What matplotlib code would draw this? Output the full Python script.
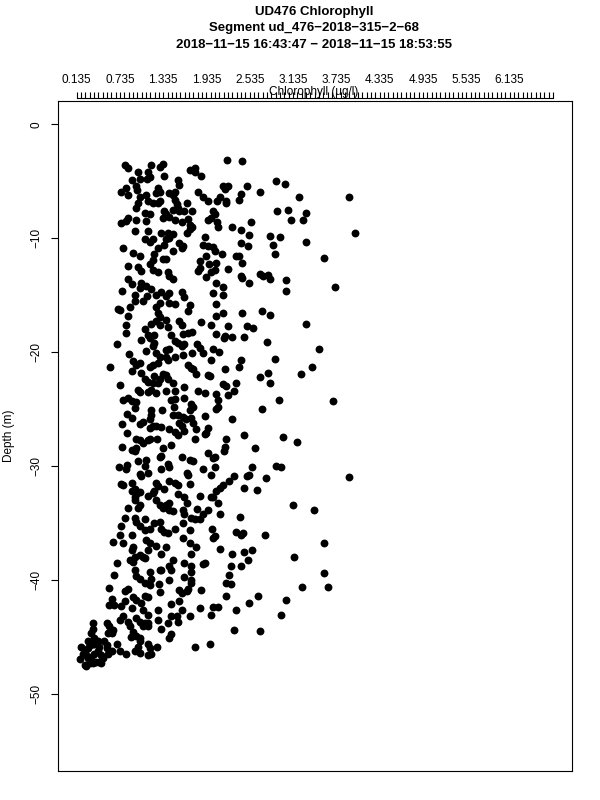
import matplotlib
matplotlib.use("Agg")
import matplotlib.pyplot as plt
import numpy as np

plt.rcParams['font.family'] = ['Liberation Sans', 'DejaVu Sans']

# ---------------- data ----------------
chl_upper = [
    2.22, 2.43, 0.80, 0.85, 1.17, 1.29, 1.33, 0.99, 1.12, 1.15,
    1.11, 1.35, 1.71, 1.77, 1.78, 1.86, 0.91, 1.01, 1.54, 1.56,
    0.96, 0.97, 0.75, 0.82, 1.27, 1.24, 1.29, 1.41, 1.50, 1.47,
    0.85, 1.82, 2.16, 2.23, 2.19, 2.50, 2.42, 2.39, 2.68, 2.90,
    3.02, 3.22, 3.91, 1.88, 1.95, 2.08, 2.12, 2.21, 2.21, 1.01,
    1.10, 0.99, 0.96, 1.12, 1.19, 1.26, 1.29, 1.50, 1.52, 1.47,
    1.66, 1.34, 1.38, 1.42, 1.33, 1.54, 1.56, 1.62, 1.74, 1.08,
    1.15, 0.85, 0.82, 0.75, 0.96, 1.10, 1.50, 1.59, 1.68, 1.71,
    1.74, 1.66, 1.70, 2.02, 2.05, 1.95, 2.00, 2.08, 2.09, 2.29,
    2.42, 2.55, 2.53, 2.91, 3.06, 3.32, 3.27, 3.10, 3.99, 0.94,
    1.12, 1.30, 1.40, 1.47, 1.42, 1.38, 1.09, 1.15, 1.19, 1.56,
    1.61, 1.59, 1.91, 2.81, 2.95, 3.32, 2.42, 2.51, 2.85, 2.88,
    0.78, 0.92, 1.01, 1.27, 1.35, 1.47, 1.88, 1.95, 2.02, 2.05,
    2.15, 2.35, 2.39, 2.43, 3.56, 1.21, 1.19, 1.33, 1.38, 0.85,
    0.99, 1.03, 1.15, 1.19, 1.26, 1.84, 1.93, 1.97, 2.07, 2.05,
    2.00, 1.82, 1.84, 2.23, 1.93, 1.40, 1.42, 1.47, 2.67, 2.72,
    2.79, 2.81, 2.42, 2.43, 2.52, 3.03, 3.03, 3.71, 0.85, 0.90,
    1.03, 1.10, 1.17, 1.01, 0.77, 2.07, 2.17, 2.16, 2.02, 0.95,
    0.94, 1.11, 1.24, 1.31, 1.42, 1.38, 1.29, 1.42, 1.50, 1.59,
    1.63, 1.05, 0.71, 0.74, 0.88, 0.85, 1.24, 1.26, 1.29, 1.70,
    1.68, 2.07, 2.07, 2.16, 2.43, 2.70, 2.81,
]
depth_upper = [
    -3.1, -3.2, -3.6, -3.8, -3.6, -3.7, -3.5, -4.2, -4.2, -4.6,
    -4.8, -4.5, -4.0, -3.8, -4.2, -4.5, -4.9, -4.8, -4.9, -5.3,
    -5.4, -5.8, -5.9, -5.6, -5.6, -6.0, -5.9, -6.0, -5.9, -6.2,
    -6.2, -5.9, -5.4, -5.4, -5.7, -5.4, -6.1, -6.6, -5.9, -5.0,
    -5.2, -6.4, -6.4, -6.4, -6.7, -6.7, -6.4, -6.7, -6.9, -6.4,
    -6.2, -6.9, -7.3, -6.7, -6.9, -6.9, -6.7, -6.6, -7.0, -7.5,
    -6.9, -7.6, -7.9, -8.1, -8.2, -7.3, -7.6, -7.6, -7.6, -7.8,
    -7.9, -8.2, -8.5, -8.7, -8.4, -8.5, -8.4, -8.6, -8.3, -8.8,
    -9.0, -9.5, -9.2, -7.6, -7.9, -8.4, -8.2, -8.6, -9.0, -9.0,
    -9.3, -8.6, -9.7, -7.6, -7.5, -7.8, -8.4, -8.4, -9.5, -9.4,
    -9.4, -9.5, -9.5, -9.6, -10.0, -10.1, -10.1, -10.3, -10.1, -10.4,
    -10.7, -10.9, -9.9, -9.8, -9.9, -10.3, -10.4, -10.7, -10.6, -11.4,
    -10.9, -11.3, -11.6, -10.9, -10.6, -11.1, -10.6, -10.7, -10.8, -11.1,
    -11.4, -11.6, -11.6, -12.2, -11.7, -11.4, -11.9, -11.8, -11.8, -12.4,
    -12.5, -12.9, -12.3, -12.8, -13.0, -12.0, -11.6, -12.3, -12.2, -12.8,
    -13.0, -12.9, -12.6, -12.7, -13.4, -13.0, -13.3, -13.6, -13.1, -13.3,
    -13.2, -13.6, -13.3, -13.5, -13.9, -13.7, -14.6, -14.3, -13.6, -14.0,
    -13.9, -14.2, -14.5, -14.4, -14.6, -13.9, -14.3, -15.0, -14.8, -15.0,
    -15.5, -15.1, -15.0, -14.7, -14.8, -15.1, -15.7, -15.7, -15.8, -14.7,
    -15.2, -15.5, -16.2, -16.3, -16.0, -16.8, -16.0, -16.6, -16.9, -15.9,
    -16.4, -15.8, -16.8, -16.6, -16.6, -16.4, -16.7,
]
chl_middle = [
    0.82, 1.17, 1.24, 1.29, 1.40, 1.38, 1.59, 1.56, 1.86, 2.00,
    2.24, 2.50, 2.58, 3.32, 0.82, 1.08, 1.12, 1.15, 1.21, 1.03,
    1.45, 1.50, 1.54, 1.59, 1.63, 1.61, 1.68, 1.74, 2.07, 2.19,
    2.18, 2.29, 2.46, 2.77, 0.70, 1.21, 1.19, 1.24, 1.10, 1.38,
    1.42, 1.50, 1.80, 1.84, 1.88, 2.02, 2.11, 0.86, 1.29, 1.37,
    1.40, 1.61, 1.74, 2.00, 2.42, 2.88, 3.49, 0.60, 0.92, 0.96,
    1.01, 0.91, 1.15, 1.19, 1.26, 1.03, 1.68, 1.72, 1.75, 2.19,
    2.39, 1.79, 1.95, 1.98, 2.79, 2.82, 2.68, 3.24, 3.40, 1.21,
    1.33, 1.38, 1.40, 1.08, 1.12, 1.19, 1.26, 1.29, 1.47, 0.74,
    0.99, 1.01, 1.12, 1.17, 1.24, 1.38, 1.50, 1.62, 1.82, 1.91,
    2.07, 2.09, 2.16, 2.21, 2.23, 2.32, 2.35, 0.78, 0.85, 0.90,
    0.96, 0.94, 1.45, 1.50, 1.62, 0.84, 0.90, 1.17, 1.17, 1.32,
    1.48, 1.72, 1.75, 1.70, 2.07, 2.09, 2.71, 2.94, 3.69, 0.77,
    1.01, 1.05, 1.15, 1.19, 1.24, 1.31, 1.47, 1.54, 1.61, 1.65,
    1.72, 1.75, 1.56, 1.59, 1.42, 1.50, 1.54, 1.92, 2.29, 1.79,
    1.95, 1.93, 1.91, 1.62, 0.84, 1.15, 2.46, 0.96, 1.01, 1.05,
    1.12, 1.15, 1.25, 1.77, 2.21, 3.00, 3.19, 0.77, 0.90, 0.96,
    0.94, 1.33, 1.31, 1.29, 1.45, 2.19, 2.18, 2.61, 1.95, 2.02,
    2.05, 1.59, 1.70, 1.75, 1.40, 1.42, 1.10, 1.08, 1.12, 0.84,
    0.82, 0.72, 0.99, 1.31, 1.88, 2.05, 2.56, 2.90, 2.97, 1.01,
    1.03, 1.66, 1.68, 2.00, 2.32, 2.25, 2.50, 2.53, 2.76, 3.91,
    0.75, 0.78, 0.90, 0.94, 0.91, 1.24, 1.26, 1.21, 1.19, 1.42,
    1.50, 1.54, 1.71, 1.35, 2.12, 2.16, 2.07, 2.46, 2.64, 1.01,
    0.97, 1.12, 1.54, 1.63, 1.84, 2.00, 2.03, 0.94,
]
depth_middle = [
    -17.6, -17.5, -17.3, -17.6, -17.8, -17.2, -17.6, -17.3, -17.4, -17.6,
    -17.7, -17.7, -17.9, -17.5, -18.3, -18.0, -18.5, -18.8, -18.5, -18.9,
    -18.5, -19.0, -19.2, -19.5, -19.3, -18.4, -18.3, -18.2, -18.4, -18.6,
    -18.8, -18.7, -18.7, -19.1, -19.3, -19.2, -19.5, -20.1, -19.9, -19.8,
    -19.7, -20.4, -19.3, -19.6, -20.1, -19.7, -20.0, -20.2, -20.4, -20.4,
    -20.7, -20.3, -20.1, -20.7, -20.7, -20.6, -19.7, -21.3, -20.8, -21.1,
    -21.0, -21.7, -21.3, -21.1, -21.0, -21.8, -21.1, -21.4, -21.5, -21.5,
    -21.3, -21.9, -22.0, -22.1, -21.8, -22.7, -22.2, -21.9, -21.3, -22.1,
    -21.9, -22.0, -22.4, -22.4, -22.6, -22.7, -22.7, -22.4, -22.7, -22.9,
    -23.3, -23.5, -23.5, -23.3, -23.6, -23.4, -23.4, -23.1, -23.4, -23.6,
    -23.7, -24.2, -22.8, -23.0, -23.8, -23.4, -22.7, -24.2, -24.0, -24.3,
    -24.4, -24.9, -24.2, -24.1, -24.0, -25.4, -25.8, -25.1, -25.5, -25.1,
    -24.8, -24.6, -24.8, -25.1, -25.0, -24.8, -25.0, -24.2, -24.3, -26.3,
    -26.3, -26.1, -25.9, -26.5, -26.5, -26.6, -25.5, -25.5, -25.7, -25.9,
    -25.8, -26.2, -26.2, -26.5, -26.8, -27.0, -27.3, -25.6, -25.9, -26.8,
    -26.7, -27.1, -27.2, -26.9, -27.1, -26.7, -27.3, -27.6, -27.7, -28.0,
    -27.7, -27.6, -27.6, -27.6, -27.6, -27.5, -27.9, -28.3, -28.6, -28.4,
    -28.7, -28.4, -29.1, -29.2, -28.2, -28.3, -28.7, -28.4, -28.9, -29.3,
    -29.2, -29.2, -29.5, -29.6, -29.8, -30.1, -29.5, -30.0, -30.6, -29.9,
    -30.3, -30.1, -29.6, -30.3, -30.3, -30.1, -30.1, -30.0, -30.1, -30.7,
    -30.9, -30.6, -30.8, -30.8, -30.9, -31.3, -30.9, -30.8, -31.1, -31.0,
    -31.6, -31.7, -31.5, -32.0, -32.2, -31.5, -31.8, -32.2, -32.4, -31.3,
    -31.5, -31.7, -31.6, -32.0, -31.9, -31.7, -32.2, -31.9, -32.1, -32.3,
    -32.4, -32.6, -32.5, -32.7, -32.6, -32.7, -32.7, -32.7,
]
chl_lower = [
    0.94, 1.01, 0.99, 0.85, 1.24, 1.29, 1.33, 1.38, 1.42, 1.47,
    1.42, 1.66, 1.61, 1.63, 1.80, 1.88, 1.95, 2.09, 2.12, 1.72,
    1.77, 1.84, 3.13, 3.43, 2.40, 0.80, 0.94, 0.96, 1.01, 1.08,
    1.21, 1.29, 1.31, 1.35, 1.40, 1.15, 1.08, 1.50, 0.75, 0.73,
    1.61, 1.71, 2.01, 2.02, 2.05, 2.34, 2.42, 2.44, 2.74, 0.91,
    0.64, 0.78, 1.10, 1.15, 1.12, 0.92, 0.90, 0.94, 1.61, 1.24,
    1.31, 1.38, 1.70, 1.72, 1.79, 2.12, 2.29, 2.46, 2.57, 3.57,
    3.15, 1.01, 1.05, 1.08, 0.69, 0.87, 0.92, 1.47, 1.42, 1.45,
    1.62, 1.72, 1.72, 1.88, 1.91, 2.27, 2.42, 2.51, 0.94, 0.96,
    1.01, 1.15, 1.17, 1.29, 1.31, 0.66, 1.42, 1.63, 1.72, 1.72,
    2.25, 2.21, 2.28, 3.56, 1.08, 1.15, 1.28, 0.59, 0.80, 0.85,
    1.56, 1.59, 1.66, 1.68, 1.29, 1.86, 3.26, 3.62, 2.20, 2.65,
    0.62, 0.59, 0.66, 0.75, 0.92, 0.96, 1.03, 1.08, 1.12, 0.80,
    1.45, 1.56, 2.52, 3.03, 0.91, 1.05, 1.12, 1.27, 1.59, 1.70,
    1.84, 2.02, 2.09, 2.00, 2.34, 2.97, 0.73, 0.78, 0.85, 0.96,
    1.01, 1.08, 1.12, 1.26, 1.40, 1.45, 1.52, 1.54, 0.36, 0.55,
    0.59, 0.64, 0.62, 0.36, 0.34, 0.38, 0.87, 0.92, 0.89, 0.96,
    1.01, 1.05, 1.12, 1.31, 1.45, 1.42, 2.32, 2.68, 0.29, 0.32,
    0.36, 0.43, 0.45, 0.52, 0.20, 0.25, 0.27, 0.29, 0.34, 0.38,
    0.43, 0.48, 0.50, 0.45, 0.41, 0.36, 0.32, 0.26, 0.55, 0.62,
    0.57, 0.69, 0.73, 0.82, 1.01, 0.99, 0.94, 1.01, 1.12, 1.15,
    1.12, 1.17, 1.25, 1.78, 1.99,
    0.25, 0.22, 0.29, 0.38, 0.55, 0.57, 0.48, 0.18,
]
depth_lower = [
    -33.0, -33.4, -33.7, -33.7, -33.0, -33.4, -33.7, -33.4, -33.9, -34.0,
    -33.3, -33.3, -33.9, -34.2, -33.8, -34.2, -33.9, -33.3, -34.2, -34.6,
    -34.7, -34.7, -33.4, -33.9, -34.5, -34.6, -34.6, -34.9, -35.3, -34.7,
    -35.0, -34.9, -35.5, -35.8, -35.9, -35.5, -35.6, -35.5, -35.3, -36.1,
    -35.0, -35.6, -35.5, -36.3, -36.2, -35.8, -36.1, -35.9, -36.1, -36.1,
    -36.7, -36.8, -36.5, -36.8, -37.4, -37.1, -37.4, -38.0, -36.3, -37.0,
    -37.7, -37.1, -36.8, -37.7, -37.1, -37.3, -37.7, -37.6, -37.4, -36.8,
    -38.0, -37.8, -38.0, -38.1, -38.5, -38.3, -38.4, -38.3, -38.8, -39.1,
    -38.5, -38.8, -39.3, -38.6, -38.5, -38.8, -38.8, -38.3, -39.1, -39.7,
    -39.9, -39.3, -39.9, -39.1, -39.1, -39.6, -40.0, -39.8, -40.0, -40.3,
    -39.6, -40.3, -40.4, -39.4, -40.3, -40.5, -40.4, -40.7, -41.0, -40.8,
    -40.9, -41.2, -41.0, -40.8, -41.1, -40.9, -40.6, -40.6, -41.4, -41.4,
    -41.7, -42.2, -42.2, -42.3, -41.5, -41.8, -42.0, -41.4, -41.5, -41.9,
    -42.1, -41.9, -42.0, -41.8, -42.5, -42.7, -43.1, -42.7, -42.7, -43.2,
    -42.5, -42.4, -42.4, -43.1, -42.7, -43.1, -43.5, -43.2, -43.7, -43.4,
    -43.7, -43.8, -43.8, -43.5, -43.8, -43.2, -43.2, -43.7, -43.8, -43.8,
    -44.1, -44.4, -44.7, -44.3, -44.7, -45.1, -44.1, -44.6, -45.0, -44.9,
    -45.1, -44.1, -44.1, -44.3, -44.8, -45.1, -44.4, -44.5, -45.4, -45.7,
    -45.6, -45.4, -45.9, -45.4, -45.9, -46.3, -46.6, -46.9, -46.8, -46.5,
    -46.3, -46.6, -46.9, -47.2, -47.2, -47.3, -47.3, -47.6, -46.0, -46.3,
    -46.5, -45.6, -46.3, -46.5, -45.4, -45.9, -46.3, -46.4, -45.6, -46.0,
    -46.6, -46.5, -45.9, -45.9, -45.6,
    -47.5, -46.5, -46.0, -45.6, -45.7, -44.7, -47.3, -47.0,
]

x_major = [0.135, 0.735, 1.335, 1.935, 2.535, 3.135, 3.735, 4.335, 4.935, 5.535, 6.135]
x_minor_step = 0.06
x_axis_range = (0.135, 6.735)
y_ticks = [0, -10, -20, -30, -40, -50]

MINUS = "\u2212"
title_lines = ["UD476 Chlorophyll",
               "Segment ud_476-2018-315-2-68".replace("-", MINUS),
               "2018-11-15 16:43:47 - 2018-11-15 18:53:55".replace("-", MINUS)]

# ---------------- figure ----------------
W, H = 600, 800
fig = plt.figure(figsize=(6, 8), dpi=100)
ax = fig.add_axes([57.5 / W, 1 - 771 / H, (572 - 57.5) / W, (771 - 100.5) / H])

chl = np.array(chl_upper + chl_middle + chl_lower)
depth = np.array(depth_upper + depth_middle + depth_lower)
ax.scatter(chl, depth, s=32, c='black', linewidths=0, zorder=3)

ax.set_xlim(-0.129, 6.999)
ax.set_ylim(-56.8, 2.1)

for sp in ax.spines.values():
    sp.set_linewidth(0.8)
    sp.set_color('black')

# left axis
ax.set_yticks(y_ticks)
ax.set_yticklabels([str(v).replace("-", MINUS) for v in y_ticks],
                   rotation=90, va='center', fontsize=8.5)
ax.tick_params(axis='y', direction='out', length=5, width=0.8, pad=6)
ax.set_xticks([])

fig.text(9.5 / W, 1 - 436 / H, "Depth (m)", rotation=90, ha='center', va='center', fontsize=8.5)

# top axis (detached line slightly above the box)
sec = ax.secondary_xaxis(1.0 + 2.0 / 670)
sec.set_xticks(x_major)
sec.set_xticklabels([f"{v:.3f}" for v in x_major], fontsize=8.5)
n_minor = int(round((x_axis_range[1] - x_axis_range[0]) / x_minor_step)) + 1
minor = [x_axis_range[0] + i * x_minor_step for i in range(n_minor)]
sec.set_xticks(minor, minor=True)
sec.tick_params(which='both', direction='out', length=4.5, width=0.8, pad=4.3)
sec.spines['top'].set_bounds(x_axis_range[0], x_axis_range[1])
sec.spines['top'].set_linewidth(0.8)

fig.text(314 / W, 1 - 92 / H, "Chlorophyll (ug/l)", ha='center', va='center', fontsize=8.5)

for t, yy in zip(title_lines, [12, 28.5, 45]):
    fig.text(314 / W, 1 - yy / H, t, ha='center', va='center', fontsize=9.5, fontweight='bold')

fig.savefig("out.png", dpi=100)
